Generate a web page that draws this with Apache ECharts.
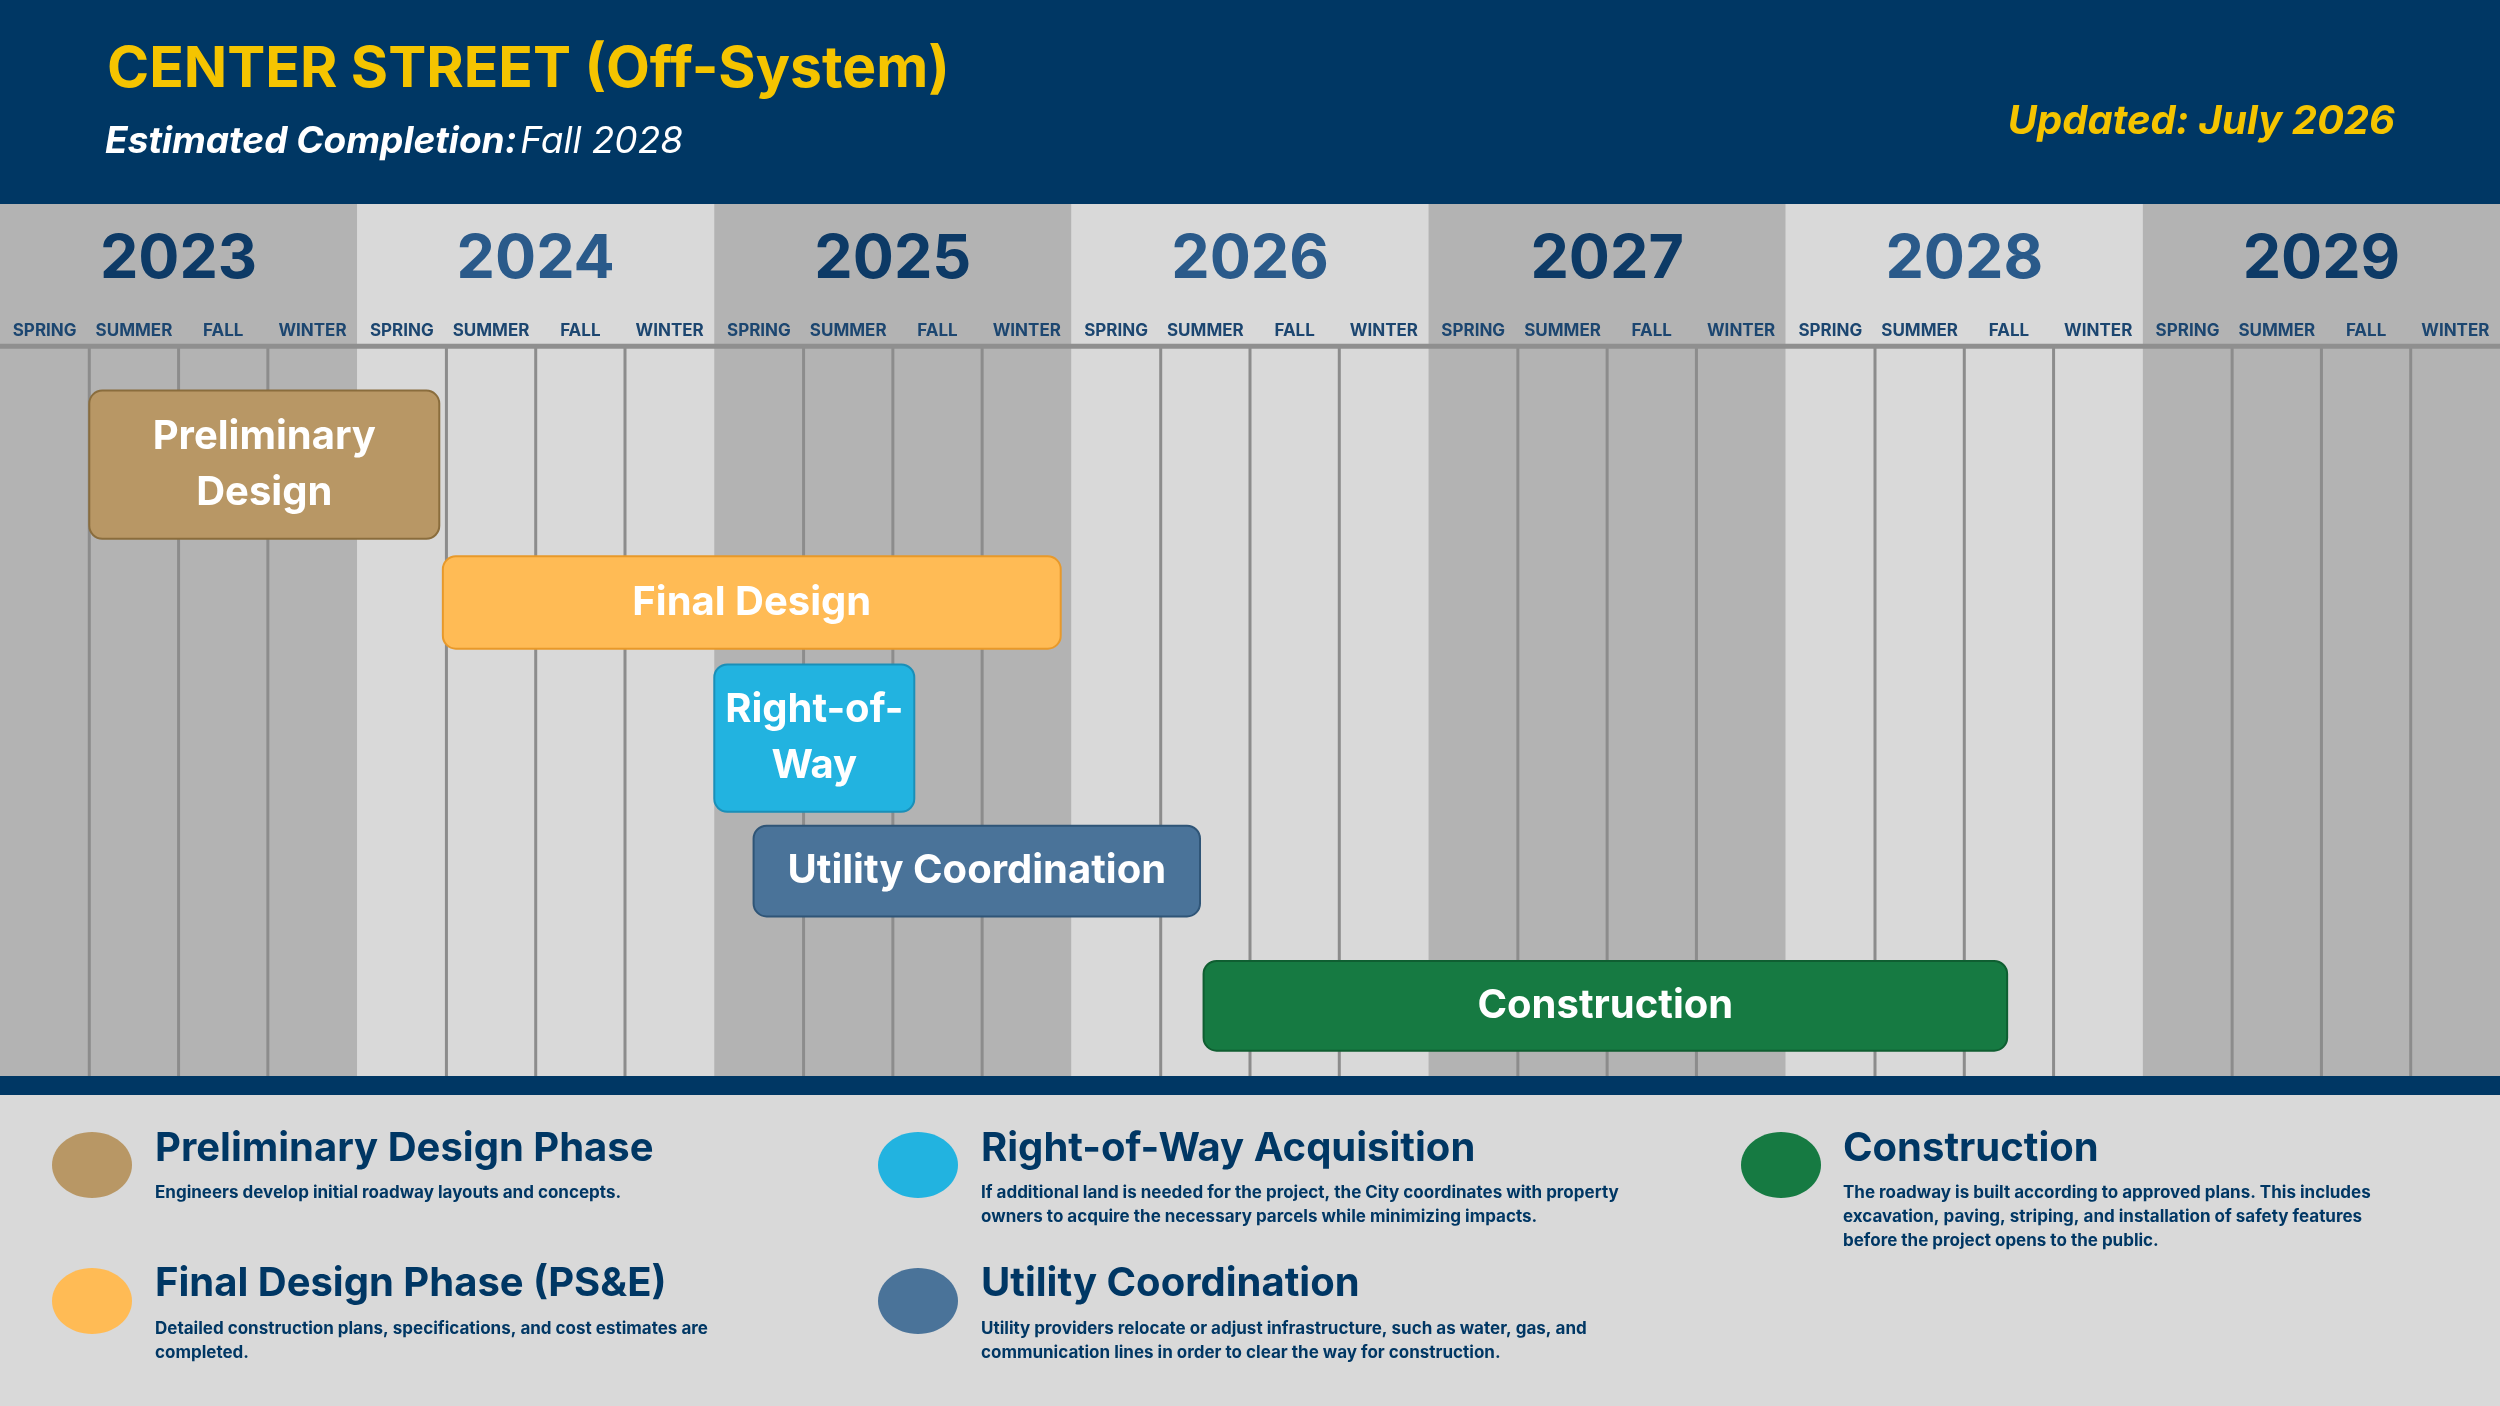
<!DOCTYPE html>
<html>
<head>
<meta charset="utf-8">
<script src="https://cdn.jsdelivr.net/npm/echarts@6/dist/echarts.min.js"></script>
<style>html,body{margin:0;padding:0;background:#d9d9d9}#main{width:2500px;height:1406px}</style>
</head>
<body>
<div id="main"></div>
<script>
// timeline data (x in years, y in lane units 0-100 from top of timeline)
var years = [2023, 2024, 2025, 2026, 2027, 2028, 2029];
var seasons = ['SPRING', 'SUMMER', 'FALL', 'WINTER'];
var phaseNames = ['Preliminary\nDesign', 'Final Design', 'Right-of-\nWay', 'Utility Coordination', 'Construction'];
var phaseStart = [2023.25, 2024.24, 2025.0, 2025.11, 2026.37];
var phaseEnd = [2024.23, 2025.97, 2025.56, 2026.36, 2028.62];
var phaseTop = [21.4, 40.4, 52.8, 71.3, 86.8];
var phaseBottom = [38.4, 51.0, 69.7, 81.7, 97.1];
var phaseColors = ['#b89765', '#ffbb55', '#22b3e0', '#4a7399', '#167a42'];
var phaseBorders = ['#8a6d3d', '#e8992a', '#1a8fb8', '#2f5577', '#0f5e31'];

var legendTitles = ['Preliminary Design Phase', 'Final Design Phase (PS&E)', 'Right-of-Way Acquisition', 'Utility Coordination', 'Construction'];
var legendTexts = [
	'Engineers develop initial roadway layouts and concepts.',
	'Detailed construction plans, specifications, and cost estimates are\ncompleted.',
	'If additional land is needed for the project, the City coordinates with property\nowners to acquire the necessary parcels while minimizing impacts.',
	'Utility providers relocate or adjust infrastructure, such as water, gas, and\ncommunication lines in order to clear the way for construction.',
	'The roadway is built according to approved plans. This includes\nexcavation, paving, striping, and installation of safety features\nbefore the project opens to the public.'
];
var legendColors = ['#b89765', '#ffbb55', '#22b3e0', '#4a7399', '#167a42'];
var legendPos = [[58, 731], [58, 816], [576, 731], [576, 816], [1117, 731]];

var S = 2500 / 1568;
function s(v) { return Math.round(v * S); }
var FONT = 'Inter, "Open Sans", sans-serif';
var NAVY = '#003764';

var chart = echarts.init(document.getElementById('main'));

var seasonLines = [];
var seasonLabels = [];
years.forEach(function (y) {
	for (var q = 0; q < 4; q++) {
		if (q > 0) seasonLines.push([y + q * 0.25]);
		seasonLabels.push([y + q * 0.25 + 0.125, seasons[q]]);
	}
});

var bands = years.map(function (y, i) { return [y, y + 1, i]; });
var phases = phaseNames.map(function (n, i) {
	return [phaseStart[i], phaseEnd[i], phaseTop[i], phaseBottom[i], i];
});

var graphics = [
	{ type: 'rect', shape: { x: 0, y: 0, width: 2500, height: s(128) }, style: { fill: NAVY } },
	{ type: 'text', left: s(67), top: s(26), style: { text: 'CENTER STREET (Off-System)', fill: '#f5c400', font: 'bold ' + s(36) + 'px ' + FONT } },
	{ type: 'text', left: s(66), top: s(77), style: { rich: {
		a: { fill: '#fff', font: 'italic bold ' + s(23) + 'px ' + FONT },
		b: { fill: '#fff', font: 'italic ' + s(23) + 'px ' + FONT }
	}, text: '{a|Estimated Completion:} {b|Fall 2028}' } },
	{ type: 'text', right: s(66), top: s(64), style: { text: 'Updated: July 2026', fill: '#f5c400', font: 'italic bold ' + s(25) + 'px ' + FONT } },
	{ type: 'rect', shape: { x: 0, y: s(675), width: 2500, height: s(12) }, style: { fill: NAVY } },
	{ type: 'rect', shape: { x: 0, y: s(687), width: 2500, height: 1406 - s(687) }, style: { fill: '#d9d9d9' } }
];
legendTitles.forEach(function (t, i) {
	var p = legendPos[i];
	graphics.push({ type: 'ellipse', shape: { cx: s(p[0]), cy: s(p[1]), rx: s(25), ry: s(21) }, style: { fill: legendColors[i] } });
	graphics.push({ type: 'text', left: s(p[0] + 39), top: s(p[1] - 23), style: { text: t, fill: NAVY, font: 'bold ' + s(25) + 'px ' + FONT, shadowBlur: 4, shadowColor: 'rgba(0,0,0,0.25)', shadowOffsetY: 2 } });
	graphics.push({ type: 'text', left: s(p[0] + 39), top: s(p[1] + 10), style: { text: legendTexts[i], fill: NAVY, font: 'bold ' + s(10.5) + 'px ' + FONT, lineHeight: s(15) } });
});

chart.setOption({
	animation: false,
	backgroundColor: '#d9d9d9',
	grid: { left: 0, right: 0, top: s(128), height: s(547) },
	xAxis: { type: 'value', min: 2023, max: 2030, show: false },
	yAxis: { type: 'value', min: 0, max: 100, inverse: true, show: false },
	graphic: graphics,
	series: [
		{
			// year bands + year labels
			type: 'custom', silent: true, data: bands, z: 1,
			renderItem: function (params, api) {
				var a = api.coord([api.value(0), 0]);
				var b = api.coord([api.value(1), 100]);
				var dark = api.value(2) % 2 === 0;
				var c = api.coord([(api.value(0) + api.value(1)) / 2, 6.4]);
				return { type: 'group', children: [
					{ type: 'rect', shape: { x: a[0], y: a[1], width: b[0] - a[0], height: b[1] - a[1] }, style: { fill: dark ? '#b3b3b3' : '#d9d9d9' } },
					{ type: 'text', x: c[0], y: c[1], style: { text: String(years[api.value(2)]), fill: dark ? '#0d3a66' : '#2a5a8a', font: 'bold ' + s(38) + 'px ' + FONT, align: 'center', verticalAlign: 'middle', shadowBlur: 5, shadowColor: 'rgba(0,0,0,0.3)', shadowOffsetY: 3 } }
				] };
			}
		},
		{
			// season labels
			type: 'custom', silent: true, data: seasonLabels, z: 2,
			renderItem: function (params, api) {
				var c = api.coord([api.value(0), 14.6]);
				return { type: 'text', x: c[0], y: c[1], style: { text: seasonLabels[params.dataIndex][1], fill: '#1c4670', font: 'bold ' + s(10.5) + 'px ' + FONT, align: 'center', verticalAlign: 'middle' } };
			}
		},
		{
			// season grid lines
			type: 'custom', silent: true, data: seasonLines, z: 2,
			renderItem: function (params, api) {
				var a = api.coord([api.value(0), 16.3]);
				var b = api.coord([api.value(0), 100]);
				return { type: 'line', shape: { x1: a[0], y1: a[1], x2: b[0], y2: b[1] }, style: { stroke: '#8c8c8c', lineWidth: 3 } };
			}
		},
		{
			// separator under season labels
			type: 'custom', silent: true, data: [[2023, 2030]], z: 2,
			renderItem: function (params, api) {
				var a = api.coord([api.value(0), 16.3]);
				var b = api.coord([api.value(1), 16.3]);
				return { type: 'line', shape: { x1: a[0], y1: a[1], x2: b[0], y2: b[1] }, style: { stroke: '#8f8f8f', lineWidth: 5 } };
			}
		},
		{
			// phase bars
			type: 'custom', data: phases, z: 5,
			renderItem: function (params, api) {
				var i = api.value(4);
				var a = api.coord([api.value(0), api.value(2)]);
				var b = api.coord([api.value(1), api.value(3)]);
				return { type: 'group', children: [
					{ type: 'rect', shape: { x: a[0], y: a[1], width: b[0] - a[0], height: b[1] - a[1], r: s(8) }, style: { fill: phaseColors[i], stroke: phaseBorders[i], lineWidth: 2 } },
					{ type: 'text', x: (a[0] + b[0]) / 2, y: (a[1] + b[1]) / 2, style: { text: phaseNames[i], fill: '#fff', font: 'bold ' + s(25) + 'px ' + FONT, align: 'center', verticalAlign: 'middle', lineHeight: s(35), shadowBlur: 4, shadowColor: 'rgba(0,0,0,0.35)', shadowOffsetY: 2 } }
				] };
			}
		}
	]
});
</script>
</body>
</html>
